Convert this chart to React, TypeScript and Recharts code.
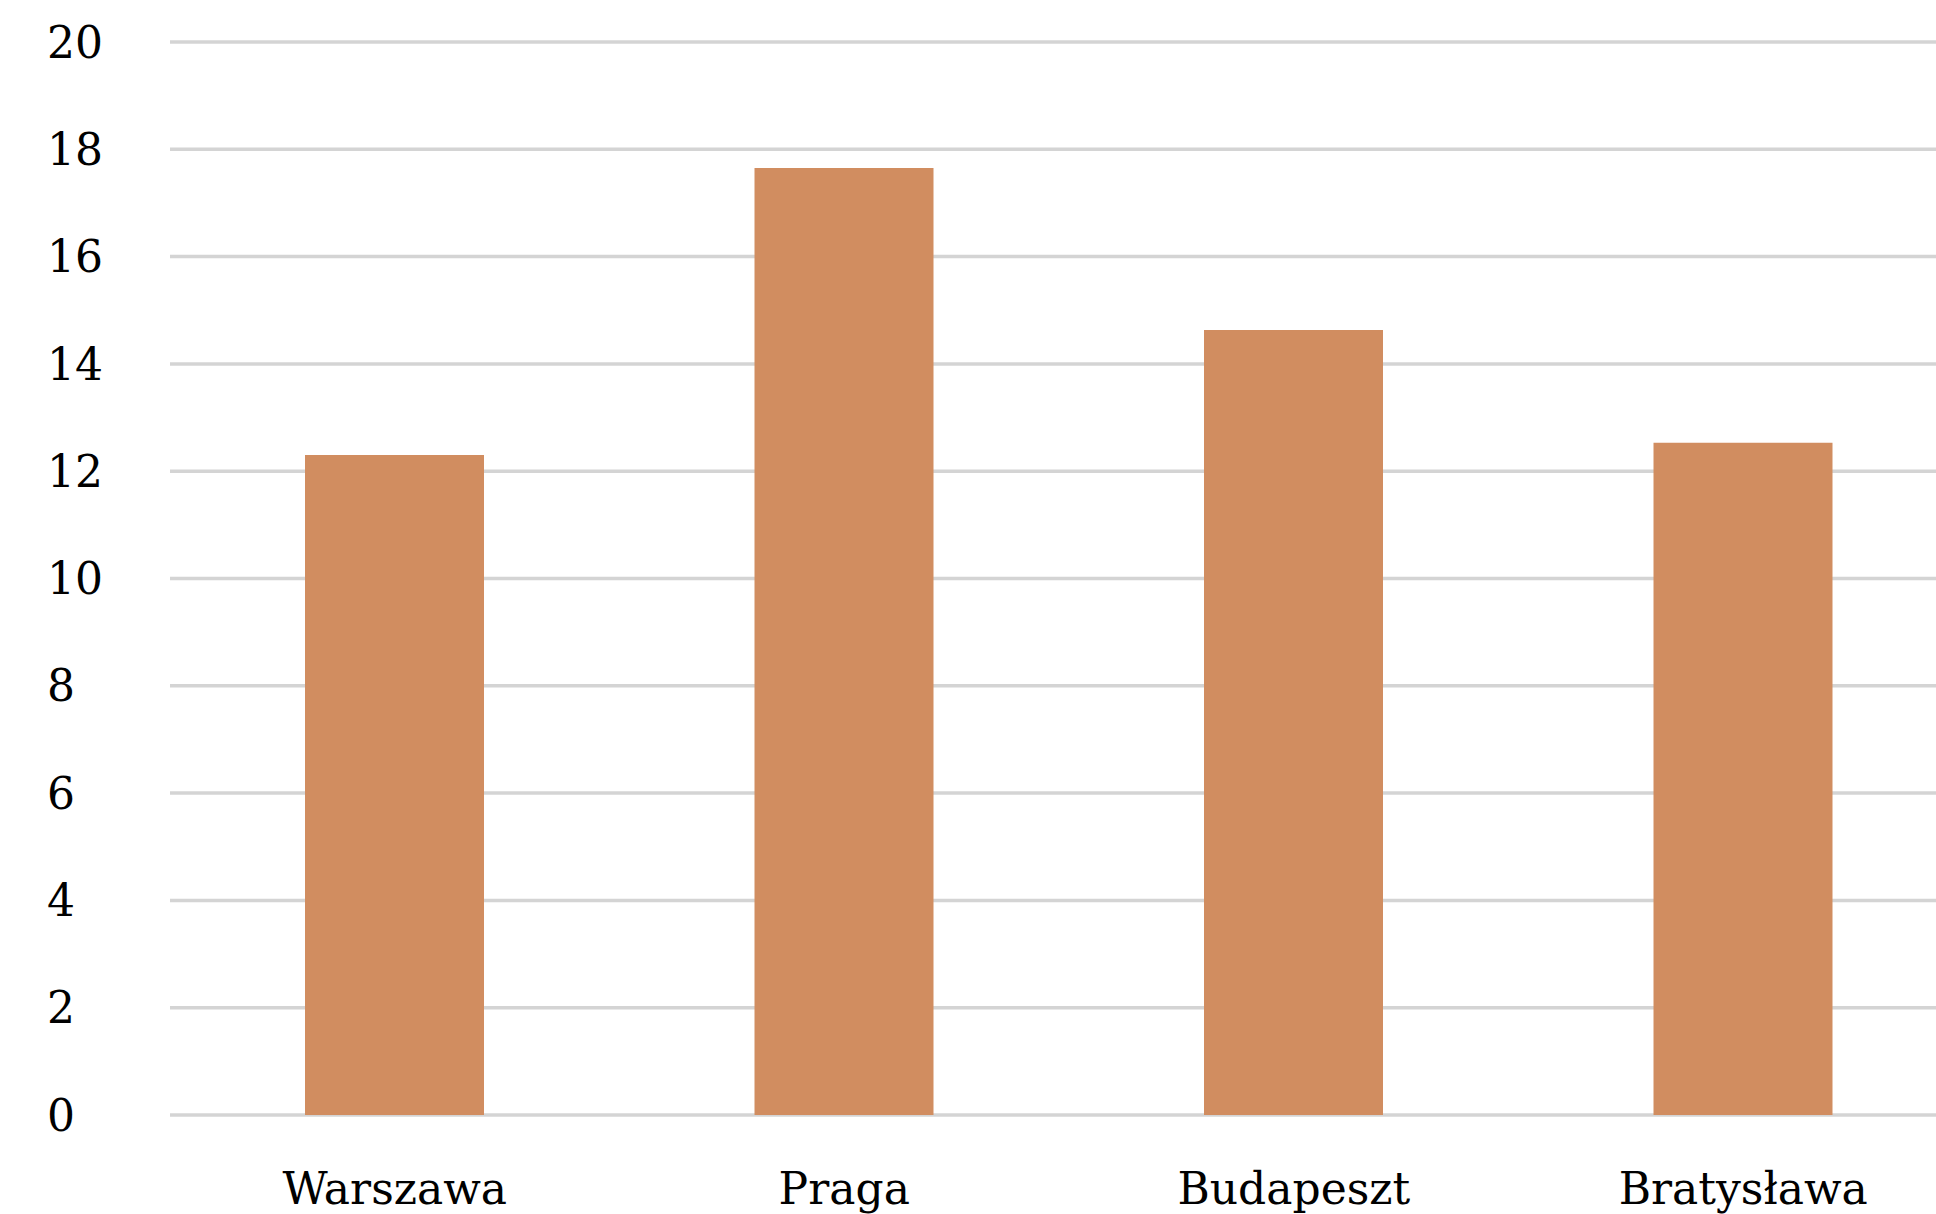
import { BarChart, Bar, XAxis, YAxis, CartesianGrid } from 'recharts'

const cities = ['Warszawa', 'Praga', 'Budapeszt', 'Bratysława']
const values = [12.3, 17.65, 14.63, 12.53]
const yTicks = [0, 2, 4, 6, 8, 10, 12, 14, 16, 18, 20]

const data = cities.map((name, i) => ({ name, value: values[i] }))

const FONT = '"DejaVu Serif", serif'

// y labels in the reference sit left-aligned, not right-aligned
const YTick = (props: any) => {
  const { x, y, payload } = props
  return (
    <text x={x - 123} y={y} dy="0.355em" textAnchor="start" fontFamily={FONT} fontSize={44} fill="#000">
      {payload.value}
    </text>
  )
}

export default function App() {
  return (
    <div style={{ position: 'absolute', left: 0, top: 0, width: 1936, height: 1214, overflow: 'hidden', background: '#fff' }}>
      <BarChart
        width={1968}
        height={1240}
        data={data}
        margin={{ top: 42, right: 0, bottom: 0, left: 0 }}
      >
        <CartesianGrid vertical={false} stroke="#d4d4d4" strokeWidth={3.5} />
        <XAxis
          dataKey="name"
          axisLine={false}
          tickLine={false}
          tickSize={0}
          tickMargin={58}
          height={125}
          interval={0}
          tick={{ fontFamily: FONT, fontSize: 44, fill: '#000' }}
        />
        <YAxis
          domain={[0, 20]}
          ticks={yTicks}
          axisLine={false}
          tickLine={false}
          tickSize={0}
          tickMargin={0}
          width={170}
          interval={0}
          tick={<YTick />}
        />
        <Bar dataKey="value" fill="#D18D60" barSize={179} isAnimationActive={false} />
      </BarChart>
    </div>
  )
}
